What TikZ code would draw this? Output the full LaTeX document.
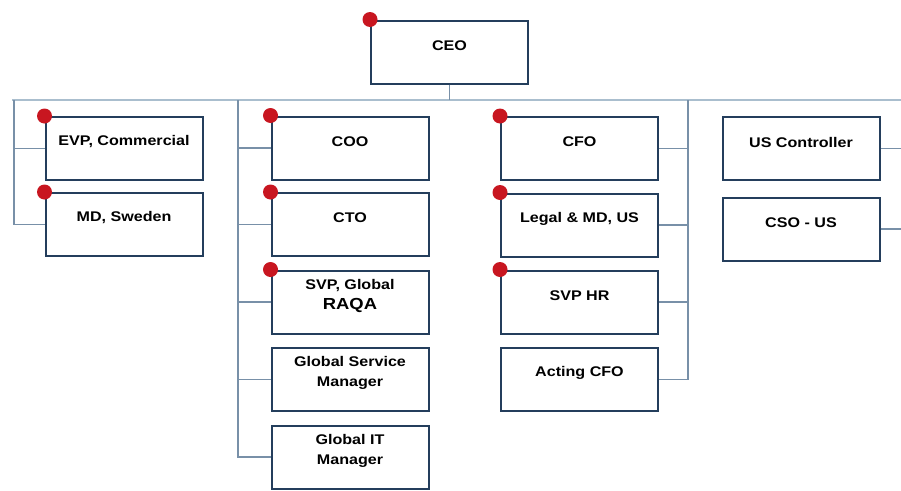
\documentclass[tikz,border=0pt]{standalone}
\usepackage{fontspec}
\setmainfont{Liberation Sans}[FakeStretch=1.15]
\definecolor{boxline}{RGB}{36,62,92}
\definecolor{linkline}{RGB}{120,144,168}
\definecolor{barline}{RGB}{170,190,206}
\definecolor{dotred}{RGB}{200,22,32}
\tikzset{
  post/.style={draw=boxline, line width=2pt, minimum width=157pt, minimum height=63pt, fill=white, inner sep=0pt},
  title/.style={anchor=center, yshift=-26pt, font=\bfseries\fontsize{14}{20}\selectfont, align=center, inner sep=0pt},
  link/.style={draw=linkline, line width=1.3pt},
  mark red/.style={fill=dotred},
}
\begin{document}
\begin{tikzpicture}[x=1pt,y=-1pt]
\useasboundingbox[fill=white] (0,0) rectangle (901,490);

% top of the chart
\node[post, label={[title]north:CEO}] (ceo) at (449.5,52) {};
\coordinate (bar-l) at (12,100);
\coordinate (bar-r) at (901,100);
\draw[draw=barline, line width=2.2pt] (bar-l) -- (bar-r);
\draw[link] (ceo.south) -- (ceo.south |- bar-l);

% left column
\node[post, label={[title]north:EVP, Commercial}] (evp) at (124,148.5) {};
\node[post, label={[title]north:MD, Sweden}] (mdse) at (124,224.5) {};
\coordinate (bus-a) at (14,100);
\draw[link] (bus-a) |- (mdse.west);
\draw[link] (evp.west) -- (evp.west -| bus-a);

% second column
\node[post, label={[title]north:COO}] (coo) at (350,148) {};
\node[post, label={[title]north:CTO}] (cto) at (350,224.5) {};
\node[post, label={[title]north:SVP, Global\\{\fontsize{16}{20}\selectfont RAQA}}] (svpqa) at (350,302) {};
\node[post, label={[title]north:Global Service\\Manager}] (gsm) at (350,379.5) {};
\node[post, label={[title]north:Global IT\\Manager}] (gitm) at (350,457) {};
\coordinate (bus-b) at (238,100);
\draw[link] (bus-b) |- (gitm.west);
\draw[link] (coo.west) -- (coo.west -| bus-b);
\draw[link] (cto.west) -- (cto.west -| bus-b);
\draw[link] (svpqa.west) -- (svpqa.west -| bus-b);
\draw[link] (gsm.west) -- (gsm.west -| bus-b);

% third column
\node[post, label={[title]north:CFO}] (cfo) at (579.5,148.5) {};
\node[post, label={[title]north:Legal \& MD, US}] (legal) at (579.5,225) {};
\node[post, label={[title]north:SVP HR}] (svphr) at (579.5,302) {};
\node[post, label={[title]north:Acting CFO}] (acfo) at (579.5,379.5) {};
\coordinate (bus-c) at (688,100);
\draw[link] (bus-c) |- (acfo.east);
\draw[link] (cfo.east) -- (cfo.east -| bus-c);
\draw[link] (legal.east) -- (legal.east -| bus-c);
\draw[link] (svphr.east) -- (svphr.east -| bus-c);

% right column
\node[post, label={[title]north:US Controller}] (usctl) at (801,148.5) {};
\node[post, label={[title]north:CSO - US}] (csous) at (801,229) {};
\coordinate (bus-d) at (901,100);
\draw[link] (usctl.east) -- (usctl.east -| bus-d);
\draw[link] (csous.east) -- (csous.east -| bus-d);

% red marks
\fill[mark red] (ceo.north west) circle (7.5pt);
\fill[mark red] (evp.north west) circle (7.5pt);
\fill[mark red] (mdse.north west) circle (7.5pt);
\fill[mark red] (coo.north west) circle (7.5pt);
\fill[mark red] (cto.north west) circle (7.5pt);
\fill[mark red] (svpqa.north west) circle (7.5pt);
\fill[mark red] (cfo.north west) circle (7.5pt);
\fill[mark red] (legal.north west) circle (7.5pt);
\fill[mark red] (svphr.north west) circle (7.5pt);
\end{tikzpicture}
\end{document}
